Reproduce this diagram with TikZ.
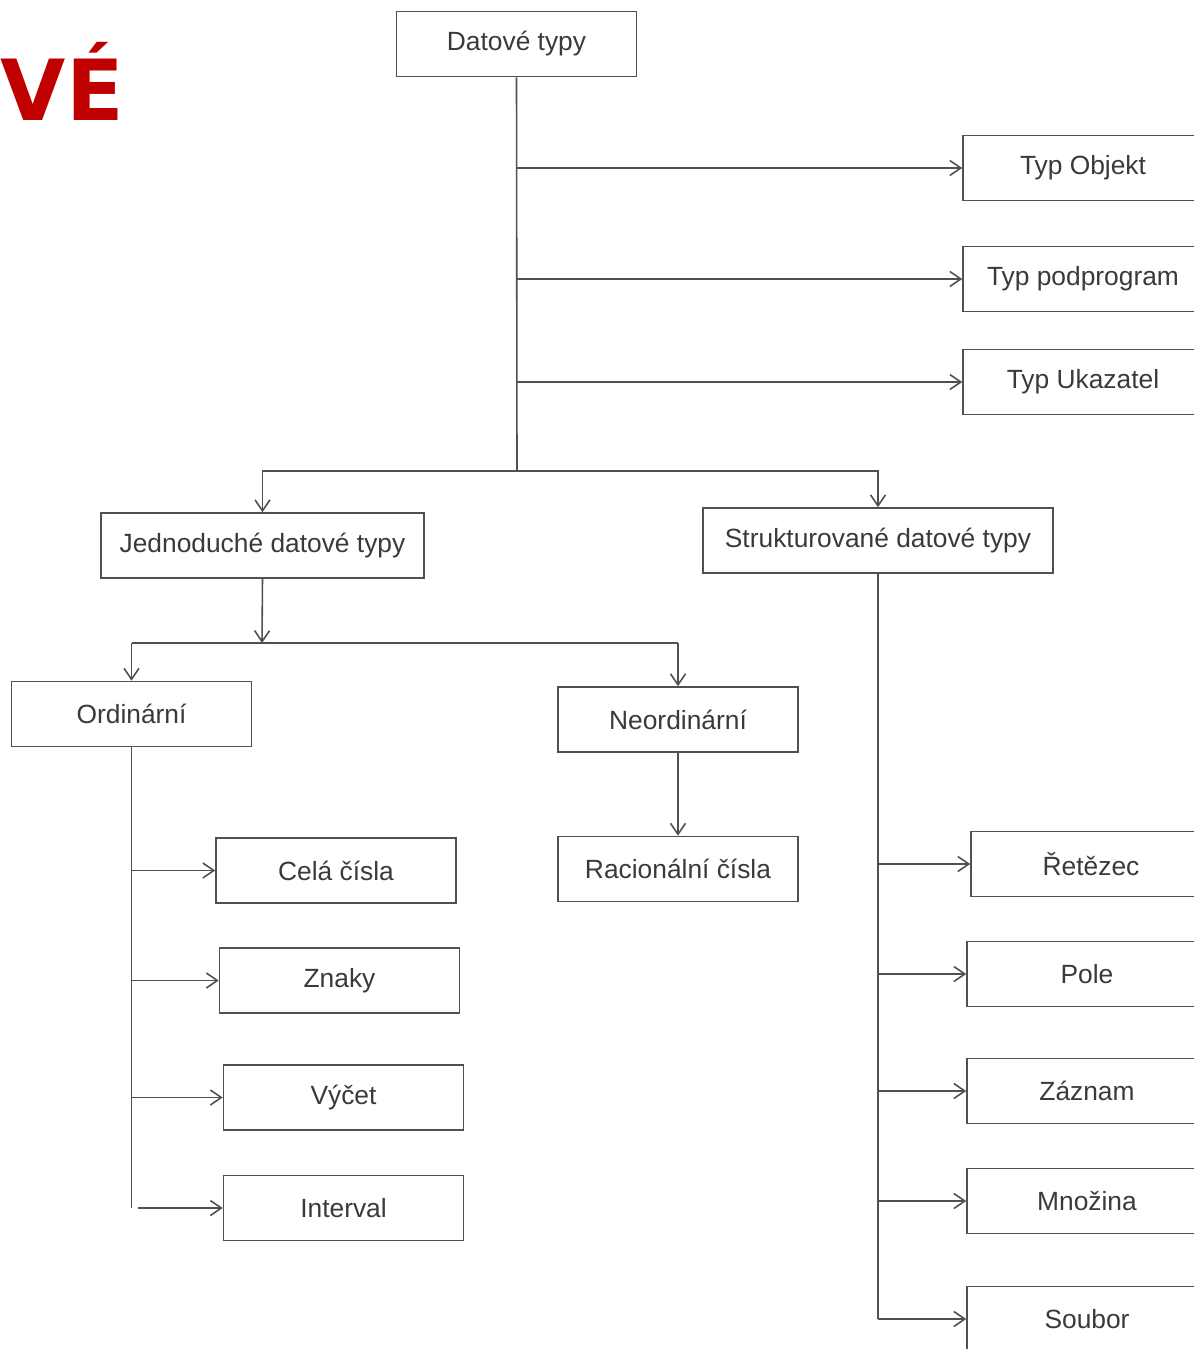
\documentclass[tikz,border=0pt]{standalone}
\usepackage{fontspec}
\setmainfont{Liberation Sans}
\newfontfamily\headfont{DejaVu Sans}
\usetikzlibrary{
  arrows.meta,
  positioning,
  calc
}
\definecolor{dtLine}{HTML}{505050}
\definecolor{dtText}{HTML}{3A3A3A}
\definecolor{dtRed}{HTML}{C00000}

\begin{document}
\begin{tikzpicture}[x=0.02cm, y=-0.02cm,
  box/.style={draw=dtLine, line width=0.9pt, text=dtText,
    font=\fontsize{15}{18}\selectfont,
    minimum width=4.8cm, minimum height=1.3cm, inner sep=0pt},
  link/.style={draw=dtLine, line width=0.9pt},
  arr/.style={link, -{Straight Barb[length=2.2mm, width=3mm, line width=0.9pt]}}]
  \useasboundingbox (0,0) rectangle (1194,1349);
  \clip (0,0) rectangle (1194,1349);
  \fill[white] (0,0) rectangle (1194,1349);

  % heading fragment
  \node[font=\headfont\fontsize{48}{48}\selectfont\bfseries, text=dtRed,
    anchor=base east, inner sep=0pt] (head) at (124,120) {VÉ};

  % root
  \node[box] (datove) at (516.5,44) {Datové typy};
  \coordinate (split) at (517,471);
  \draw[link] (datove.south) -- (split);
  \foreach \n/\y/\txt in {
    objekt/168/{Typ Objekt},
    podprog/279/{Typ podprogram},
    ukaz/382/{Typ Ukazatel}}{
    \node[box] (\n) at (1083,\y) {\txt};
    \draw[arr] (datove.south |- \n.west) -- (\n.west);
  }

  % second level
  \node[box, minimum width=6.46cm] (jedn) at (262.5,545.5) {Jednoduché datové typy};
  \node[box, minimum width=7cm] (strukt) at (878,540.5) {Strukturované datové typy};
  \draw[arr] (split) -| (jedn.north);
  \draw[arr] (split) -| (strukt.north);

  % simple types
  \node[box] (ordin) at (131.5,714) {Ordinární};
  \node[box] (neord) at (678,719.5) {Neordinární};
  \node[box] (racio) at (678,869) {Racionální čísla};
  \coordinate (split2) at (262,643);
  \draw[arr] (jedn.south) -- (split2);
  \draw[link] (ordin.north |- split2) -- (neord.north |- split2);
  \draw[arr] (ordin.north |- split2) -- (ordin.north);
  \draw[arr] (neord.north |- split2) -- (neord.north);
  \draw[arr] (neord) -- (racio);

  % ordinal types
  \foreach \n/\x/\y/\txt/\gap in {
    cela/336/870.5/{Celá čísla}/0pt,
    znaky/339.5/980.5/{Znaky}/0pt,
    vycet/343.5/1097.5/{Výčet}/0pt,
    interval/343.5/1208/{Interval}/0.12cm}{
    \node[box] (\n) at (\x,\y) {\txt};
    \draw[arr, shorten <=\gap] (ordin.south |- \n.west) -- (\n.west);
  }
  \draw[link] (ordin.south) -- (ordin.south |- interval.west);

  % structured types
  \foreach \n/\x/\y/\txt in {
    retezec/1091/864/{Řetězec},
    pole/1087/974/{Pole},
    zaznam/1087/1091/{Záznam},
    mnozina/1087/1201/{Množina},
    soubor/1087/1319/{Soubor}}{
    \node[box] (\n) at (\x,\y) {\txt};
    \draw[arr] (strukt.south |- \n.west) -- (\n.west);
  }
  \draw[link] (strukt.south) -- (strukt.south |- soubor.west);
\end{tikzpicture}
\end{document}
